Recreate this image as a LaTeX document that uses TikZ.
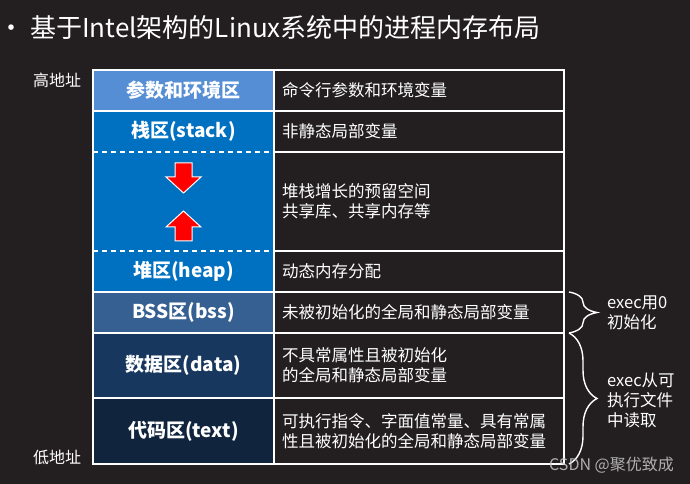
\documentclass[tikz,border=0pt]{standalone}
\usepackage{fontspec}
\setmainfont{Noto Sans CJK SC}
\usetikzlibrary{positioning,decorations.pathreplacing}
\definecolor{bgclr}{RGB}{35,31,32}
\definecolor{argclr}{RGB}{85,142,213}
\definecolor{stkclr}{RGB}{0,112,192}
\definecolor{bssclr}{RGB}{55,96,146}
\definecolor{dataclr}{RGB}{23,55,94}
\definecolor{textclr}{RGB}{16,36,62}
\definecolor{wmclr}{RGB}{200,200,200}
\tikzset{
  seg/.style={
    inner sep = 0pt,
    outer sep = 0pt,
    minimum width = 181bp,
    text = white,
    font = \fontsize{19bp}{22bp}\selectfont\bfseries
  },
  desc/.style={
    inner xsep = 8bp,
    inner ysep = 0pt,
    outer sep = 0pt,
    text width = 274bp,
    align = left,
    draw = white,
    line width = 1.2bp,
    text = white,
    font = \fontsize{16.5bp}{20bp}\selectfont
  },
  addr/.style={
    text = white,
    inner sep = 0pt,
    font = \fontsize{16bp}{19bp}\selectfont
  },
  note/.style={
    anchor = west,
    align = left,
    text = white,
    inner sep = 0pt,
    font = \fontsize{16.5bp}{20bp}\selectfont
  },
  bracer/.style={
    decorate,
    decoration = {brace, amplitude = 28bp, aspect = 0.5},
    draw = white,
    line width = 1.4bp
  },
  blockarr/.style={
    fill = red,
    draw = white,
    line width = 1bp,
    line join = miter
  }
}
\begin{document}
\begin{tikzpicture}[x=1bp, y=-1bp]
    \fill[bgclr] (0,0) rectangle (690,484);
    \useasboundingbox (0,0) rectangle (690,484);
    % title
    \node[text=white, inner sep=0pt, font=\fontsize{26bp}{28bp}\selectfont] (dot) at (12,31) {•};
    \node[text=white, inner sep=0pt, anchor=west, font=\fontsize{26bp}{30bp}\selectfont] (ttl) at (30,28)
        {基于Intel架构的Linux系统中的进程内存布局};
    % left column
    \node[seg, fill=argclr, minimum height=41bp, anchor=north west, draw=white, line width=1.2bp] (args) at (93,70) {参数和环境区};
    \node[seg, fill=stkclr, minimum height=41bp, below=0pt of args] (stack) {栈区(stack)};
    \node[seg, fill=stkclr, minimum height=99bp, below=0pt of stack] (gap) {};
    \node[seg, fill=stkclr, minimum height=41bp, below=0pt of gap] (heap) {堆区(heap)};
    \node[seg, fill=bssclr, minimum height=41bp, below=0pt of heap, draw=white, line width=1.2bp] (bss) {BSS区(bss)};
    \node[seg, fill=dataclr, minimum height=65bp, below=0pt of bss, draw=white, line width=1.2bp] (data) {数据区(data)};
    \node[seg, fill=textclr, minimum height=66bp, below=0pt of data, draw=white, line width=1.2bp] (text) {代码区(text)};
    \draw[white, line width=1.2bp] (stack.north west) rectangle (heap.south east);
    \draw[white, line width=1.2bp, dash pattern=on 5bp off 4bp] (stack.south west) -- (stack.south east);
    \draw[white, line width=1.2bp, dash pattern=on 5bp off 4bp] (heap.north west) -- (heap.north east);
    % right column
    \node[desc, minimum height=41bp, right=0pt of args] (argsd) {命令行参数和环境变量};
    \node[desc, minimum height=41bp, right=0pt of stack] (stackd) {非静态局部变量};
    \node[desc, minimum height=99bp, right=0pt of gap] (gapd) {堆栈增长的预留空间\\共享库、共享内存等};
    \node[desc, minimum height=41bp, right=0pt of heap] (heapd) {动态内存分配};
    \node[desc, minimum height=41bp, right=0pt of bss] (bssd) {未被初始化的全局和静态局部变量};
    \node[desc, minimum height=65bp, right=0pt of data] (datad) {不具常属性且被初始化\\的全局和静态局部变量};
    \node[desc, minimum height=66bp, right=0pt of text] (textd) {可执行指令、字面值常量、具有常属\\性且被初始化的全局和静态局部变量};
    % growth arrows
    \coordinate (dn) at (183.5,163);
    \coordinate (up) at (183.5,211);
    \draw[blockarr] ([xshift=-8.5bp]dn) -- ++(17,0) -- ++(0,14) -- ++(9,0)
        -- ++(-17.5,16) -- ++(-17.5,-16) -- ++(9,0) -- cycle;
    \draw[blockarr] (up) -- ++(17.5,16) -- ++(-9,0) -- ++(0,14) -- ++(-17,0)
        -- ++(0,-14) -- ++(-9,0) -- cycle;
    % addresses
    \node[addr] (hi) at (57,80) {高地址};
    \node[addr] (lo) at (57,457) {低地址};
    % braces
    \draw[bracer] ([xshift=5bp]bssd.north east) -- ([xshift=5bp]bssd.south east);
    \draw[bracer] ([xshift=5bp]datad.north east) -- ([xshift=5bp]textd.south east);
    \node[note] (zero) at (607,313) {exec用0\\初始化};
    \node[note] (load) at (607,400) {exec从可\\执行文件\\中读取};
    % watermark
    \node[text=wmclr, opacity=0.85, anchor=east, inner sep=0pt, font=\fontsize{16bp}{18bp}\selectfont] (wm) at (674,465) {CSDN @聚优致成};
\end{tikzpicture}
\end{document}
